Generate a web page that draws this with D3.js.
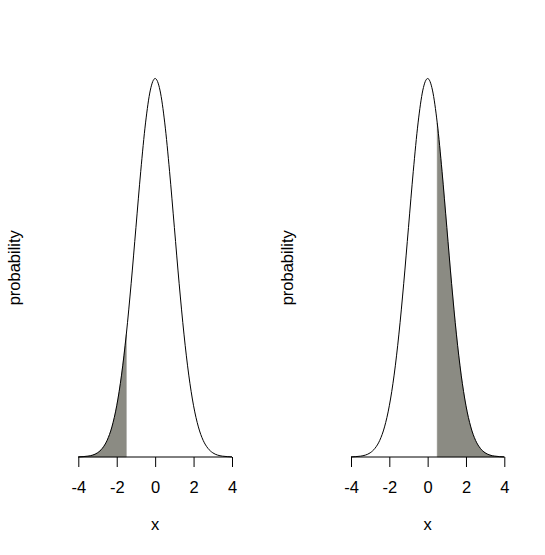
<!DOCTYPE html>
<html><head><meta charset="utf-8">
<script src="https://cdn.jsdelivr.net/npm/d3@7"></script>
<style>body{margin:0;background:#fff}svg{display:block}text{font-family:"Liberation Sans",Arial,sans-serif;fill:#000}</style>
</head><body>
<script>
// density values (x from -4 to 4, step 0.25)
const xs = [-4,-3.75,-3.5,-3.25,-3,-2.75,-2.5,-2.25,-2,-1.75,-1.5,-1.25,-1,-0.75,-0.5,-0.25,0,
            0.25,0.5,0.75,1,1.25,1.5,1.75,2,2.25,2.5,2.75,3,3.25,3.5,3.75,4];
const dens = [0.0001,0.0004,0.0009,0.0020,0.0044,0.0091,0.0175,0.0317,0.0540,0.0863,0.1295,0.1826,0.2420,0.3011,0.3521,0.3867,0.3989,
              0.3867,0.3521,0.3011,0.2420,0.1826,0.1295,0.0863,0.0540,0.0317,0.0175,0.0091,0.0044,0.0020,0.0009,0.0004,0.0001];
const xTicks = [-4,-2,0,2,4];
const shadeRanges = [[-4,-1.5],[0.5,4]];
const xLabel = "x", yLabel = "probability";

const W=545,H=555;
const svg=d3.select("body").append("svg").attr("width",W).attr("height",H);
const pts = xs.map((x,i)=>({x, y:dens[i]}));
const panels=[{x0:78.3,x1:232},{x0:351,x1:504.3}];
const y=d3.scaleLinear().domain([0,0.3989]).range([457,78.5]);

panels.forEach((p,k)=>{
  const x=d3.scaleLinear().domain([-4,4]).range([p.x0,p.x1]);
  const g=svg.append("g");
  const [a,b]=shadeRanges[k];
  const sub=pts.filter(d=>d.x>=a-1e-9&&d.x<=b+1e-9);
  g.append("path").datum(sub)
    .attr("d",d3.area().x(d=>x(d.x)).y0(y(0)).y1(d=>y(d.y)).curve(d3.curveMonotoneX))
    .attr("fill","#8b8b83").attr("stroke","#8b8b83").attr("stroke-width",0.5);
  g.append("path").datum(pts)
    .attr("d",d3.line().x(d=>x(d.x)).y(d=>y(d.y)).curve(d3.curveMonotoneX))
    .attr("fill","none").attr("stroke","#000").attr("stroke-width",1);
  const ax=g.append("g").attr("transform","translate(0,457)")
    .call(d3.axisBottom(x).tickValues(xTicks).tickSize(10).tickPadding(14).tickFormat(d3.format("d")));
  ax.select(".domain").attr("d",`M${x(-4)},0H${x(4)}`).attr("stroke","#000");
  ax.selectAll("text").attr("font-size",16.5).attr("font-family","Liberation Sans, Arial, sans-serif").text(d=>d<0?"-"+Math.abs(d):d);
  g.append("text").attr("x",(p.x0+p.x1)/2).attr("y",530).attr("text-anchor","middle").attr("font-size",16.5).text(xLabel);
  g.append("text").attr("transform",`translate(${p.x0-58.5},${(457+78.5)/2}) rotate(-90)`)
    .attr("text-anchor","middle").attr("font-size",16.5).text(yLabel);
});
</script>
</body></html>
